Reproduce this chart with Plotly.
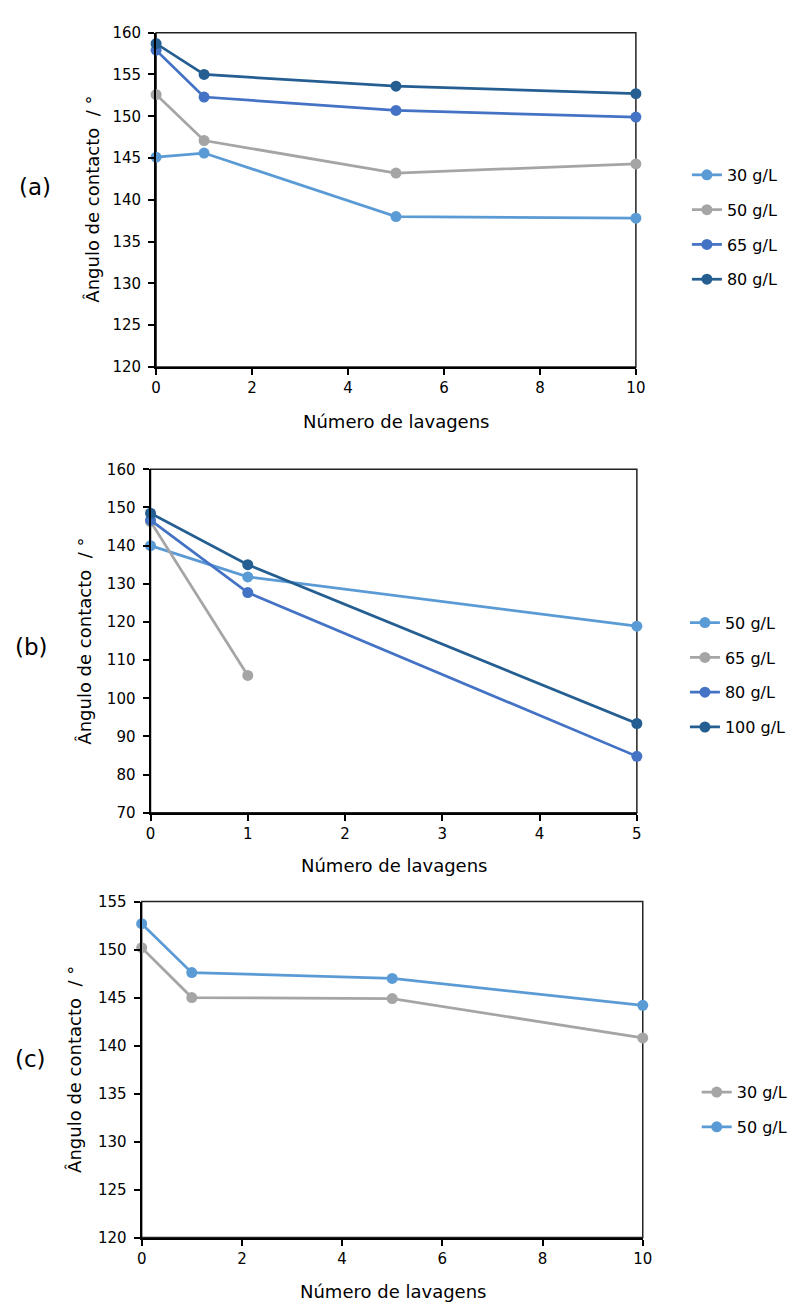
import plotly.graph_objects as go

# ---------------- data ----------------
lav_a = [0, 1, 5, 10]
a_30 = [145.1, 145.6, 138.0, 137.8]
a_50 = [152.6, 147.1, 143.2, 144.3]
a_65 = [157.9, 152.3, 150.7, 149.9]
a_80 = [158.7, 155.0, 153.6, 152.7]

lav_b = [0, 1, 5]
b_50 = [140.0, 131.8, 118.9]
lav_b65 = [0, 1]
b_65 = [146.3, 106.0]
b_80 = [146.7, 127.7, 84.8]
b_100 = [148.5, 135.0, 93.4]

lav_c = [0, 1, 5, 10]
c_30 = [150.2, 145.0, 144.9, 140.8]
c_50 = [152.7, 147.6, 147.0, 144.2]

LIGHT = "#5B9BD5"
GRAY = "#A5A5A5"
MID = "#4472C4"
DARK = "#255E91"

FONT = "DejaVu Sans"
W, H = 796, 1311

fig = go.Figure()

def add(x, y, name, color, xa, ya, leg):
    fig.add_trace(go.Scatter(
        x=x, y=y, name=name, mode="lines+markers",
        line=dict(color=color, width=2.75),
        marker=dict(color=color, size=11),
        xaxis=xa, yaxis=ya, legend=leg, legendgroup=leg + name,
        cliponaxis=False,
    ))

add(lav_a, a_30, "30 g/L", LIGHT, "x", "y", "legend")
add(lav_a, a_50, "50 g/L", GRAY, "x", "y", "legend")
add(lav_a, a_65, "65 g/L", MID, "x", "y", "legend")
add(lav_a, a_80, "80 g/L", DARK, "x", "y", "legend")

add(lav_b, b_50, "50 g/L", LIGHT, "x2", "y2", "legend2")
add(lav_b65, b_65, "65 g/L", GRAY, "x2", "y2", "legend2")
add(lav_b, b_80, "80 g/L", MID, "x2", "y2", "legend2")
add(lav_b, b_100, "100 g/L", DARK, "x2", "y2", "legend2")

add(lav_c, c_30, "30 g/L", GRAY, "x3", "y3", "legend3")
add(lav_c, c_50, "50 g/L", LIGHT, "x3", "y3", "legend3")

def px_x(v):
    return v / W

def px_y(v):
    return 1 - v / H

axis_common = dict(
    showline=True, linecolor="black", linewidth=2, mirror=False,
    ticks="outside", ticklen=6, tickwidth=1.5, tickcolor="black",
    showgrid=False, zeroline=False,
    tickfont=dict(family=FONT, size=15, color="black"),
)

panels = [
    ("xaxis", "yaxis", 154, 643, 24, 363, [0, 10], 2, [120, 160], 5),
    ("xaxis2", "yaxis2", 148.3, 644, 466.7, 815, [0, 5], 1, [70, 160], 10),
    ("xaxis3", "yaxis3", 139.3, 650, 905, 1245.7, [0, 10], 2, [120, 155], 5),
]

for i, (xk, yk, xl, xr, yt, yb, xrng, xdt, yrng, ydt) in enumerate(panels):
    sfx = "" if i == 0 else str(i + 1)
    fig.layout[xk] = dict(axis_common, domain=[px_x(xl), px_x(xr)], range=xrng,
                          dtick=xdt, tick0=0, anchor="y" + sfx)
    fig.layout[yk] = dict(axis_common, domain=[px_y(yb), px_y(yt)], range=yrng,
                          dtick=ydt, tick0=0, anchor="x" + sfx, ticklabelstandoff=4)
    fig.add_shape(type="rect", xref="x" + sfx + " domain", yref="y" + sfx + " domain",
                  x0=0, x1=1, y0=0, y1=1, line=dict(color="#222", width=1.5),
                  fillcolor="rgba(0,0,0,0)", layer="below")

legend_common = dict(
    xanchor="left", yanchor="top", bgcolor="rgba(0,0,0,0)",
    font=dict(family=FONT, size=16, color="black"), tracegroupgap=11,
    itemwidth=30,
)
fig.update_layout(
    legend=dict(legend_common, x=px_x(695), y=px_y(151)),
    legend2=dict(legend_common, x=px_x(693), y=px_y(605)),
    legend3=dict(legend_common, x=px_x(705), y=px_y(1081)),
)

annots = []
for txt, x, y in [("(a)", 31, 180), ("(b)", 27, 647), ("(c)", 26, 1065)]:
    annots.append(dict(text=txt, x=px_x(x), y=px_y(y), xref="paper", yref="paper",
                       showarrow=False, font=dict(family=FONT, size=23, color="black"),
                       xanchor="center", yanchor="middle"))
for x, y in [(398, 418), (396, 868), (395, 1300)]:
    annots.append(dict(text="Número de lavagens", x=px_x(x), y=px_y(y), xref="paper",
                       yref="paper", showarrow=False,
                       font=dict(family=FONT, size=18, color="black"),
                       xanchor="center", yanchor="middle"))
for x, y in [(89, 193), (81, 641), (71, 1075)]:
    annots.append(dict(text="Ângulo de contacto\u00a0 / °", x=px_x(x), y=px_y(y), xref="paper",
                       yref="paper", showarrow=False, textangle=-90,
                       font=dict(family=FONT, size=18, color="black"),
                       xanchor="center", yanchor="middle"))

fig.update_layout(
    width=W, height=H, margin=dict(l=0, r=0, t=0, b=0),
    paper_bgcolor="white", plot_bgcolor="white",
    annotations=annots, showlegend=True,
)

fig.write_html("out.html")
